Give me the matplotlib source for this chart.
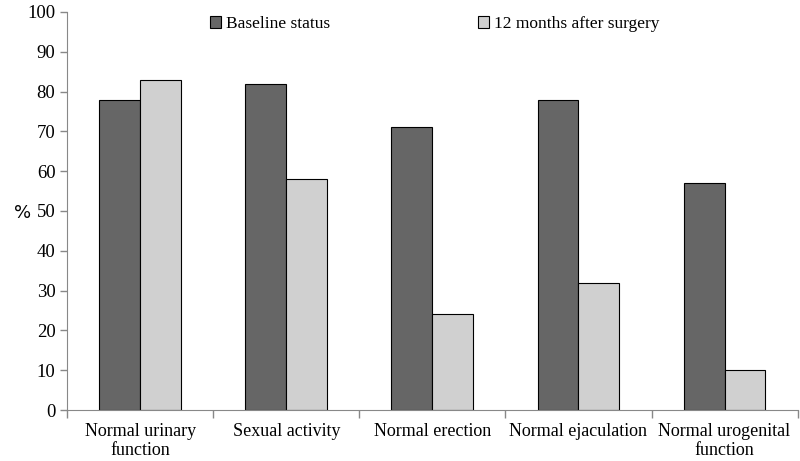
import matplotlib.pyplot as plt
import numpy as np

categories = ["Normal urinary\nfunction", "Sexual activity", "Normal erection",
              "Normal ejaculation", "Normal urogenital\nfunction"]
baseline = [78, 82, 71, 78, 57]
after12 = [83, 58, 24, 32, 10]
series_names = ["Baseline status", "12 months after surgery"]

plt.rcParams['font.family'] = ['Liberation Serif', 'DejaVu Serif']

fig = plt.figure(figsize=(8, 4.61), dpi=100)
ax = fig.add_axes([0.084, 0.1106, 0.913, 0.8634])

x = np.arange(len(categories))
w = 0.28
ax.bar(x - w / 2, baseline, w, color="#666666", edgecolor="black", linewidth=0.8, label=series_names[0])
ax.bar(x + w / 2, after12, w, color="#d0d0d0", edgecolor="black", linewidth=0.8, label=series_names[1])

ax.set_xlim(-0.5, len(categories) - 0.5)
ax.set_ylim(0, 100)
ax.set_yticks(np.arange(0, 101, 10))
ax.tick_params(axis='y', labelsize=13.5, color="#888888", length=5, width=1)
ax.set_xticks(x)
ax.set_xticklabels(categories, fontsize=13)
ax.tick_params(axis='x', length=0, pad=9)
ax.set_xticks(np.arange(-0.5, len(categories), 1), minor=True)
ax.tick_params(axis='x', which='minor', length=6, color="#888888", width=1)

for s in ["top", "right"]:
    ax.spines[s].set_visible(False)
for s in ["left", "bottom"]:
    ax.spines[s].set_color("#888888")

fig.text(0.018, 0.537, "%", fontsize=13, ha="left", va="center", family="DejaVu Sans")

fig.legend(loc="center left", bbox_to_anchor=(0.262, 0.948), ncol=2, frameon=False,
           fontsize=12.5, handlelength=0.65, handleheight=0.65, handletextpad=0.3,
           columnspacing=8.5, borderaxespad=0.0, borderpad=0.0)

fig.savefig("out.png", dpi=100)
